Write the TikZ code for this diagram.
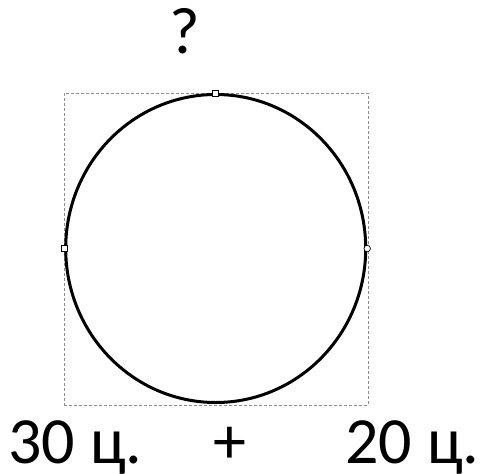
\documentclass[tikz,border=0pt]{standalone}
\usepackage{fontspec}
\setmainfont{Carlito}
\usetikzlibrary{shapes.geometric}
\begin{document}
\begin{tikzpicture}[x=1pt,y=-1pt,
  lbl/.style={font=\fontsize{66}{70}\selectfont, inner sep=0pt},
  selbox/.style={draw=black!45, line width=0.8pt, dash pattern=on 3pt off 2pt, minimum width=304pt, minimum height=312pt, inner sep=0pt},
  ring/.style={ellipse, draw=black, line width=3pt, minimum width=300pt, minimum height=308pt, inner sep=0pt},
  sqhandle/.style={rectangle, draw=black, fill=white, line width=0.7pt, minimum size=6pt, inner sep=0pt},
  cihandle/.style={circle, draw=black, fill=white, line width=0.7pt, minimum size=6.5pt, inner sep=0pt}]
\useasboundingbox (0,0) rectangle (481,473);
\fill[white] (0,0) rectangle (481,473);
\node[selbox] (box) at (216,249) {};
\node[ring] (c) at (215.7,248.5) {};
\node[sqhandle] (ht) at (c.north) {};
\node[sqhandle] (hl) at (c.west) {};
\node[cihandle] (hr) at (c.east) {};
\node[lbl, anchor=base] (q) at (184.5,54) {?};
\node[lbl, anchor=base west] (a) at (8,463) {30 ц.};
\node[lbl, anchor=base] (p) at (230,463) {+};
\node[lbl, anchor=base west] (b) at (345,463) {20 ц.};
\end{tikzpicture}
\end{document}
